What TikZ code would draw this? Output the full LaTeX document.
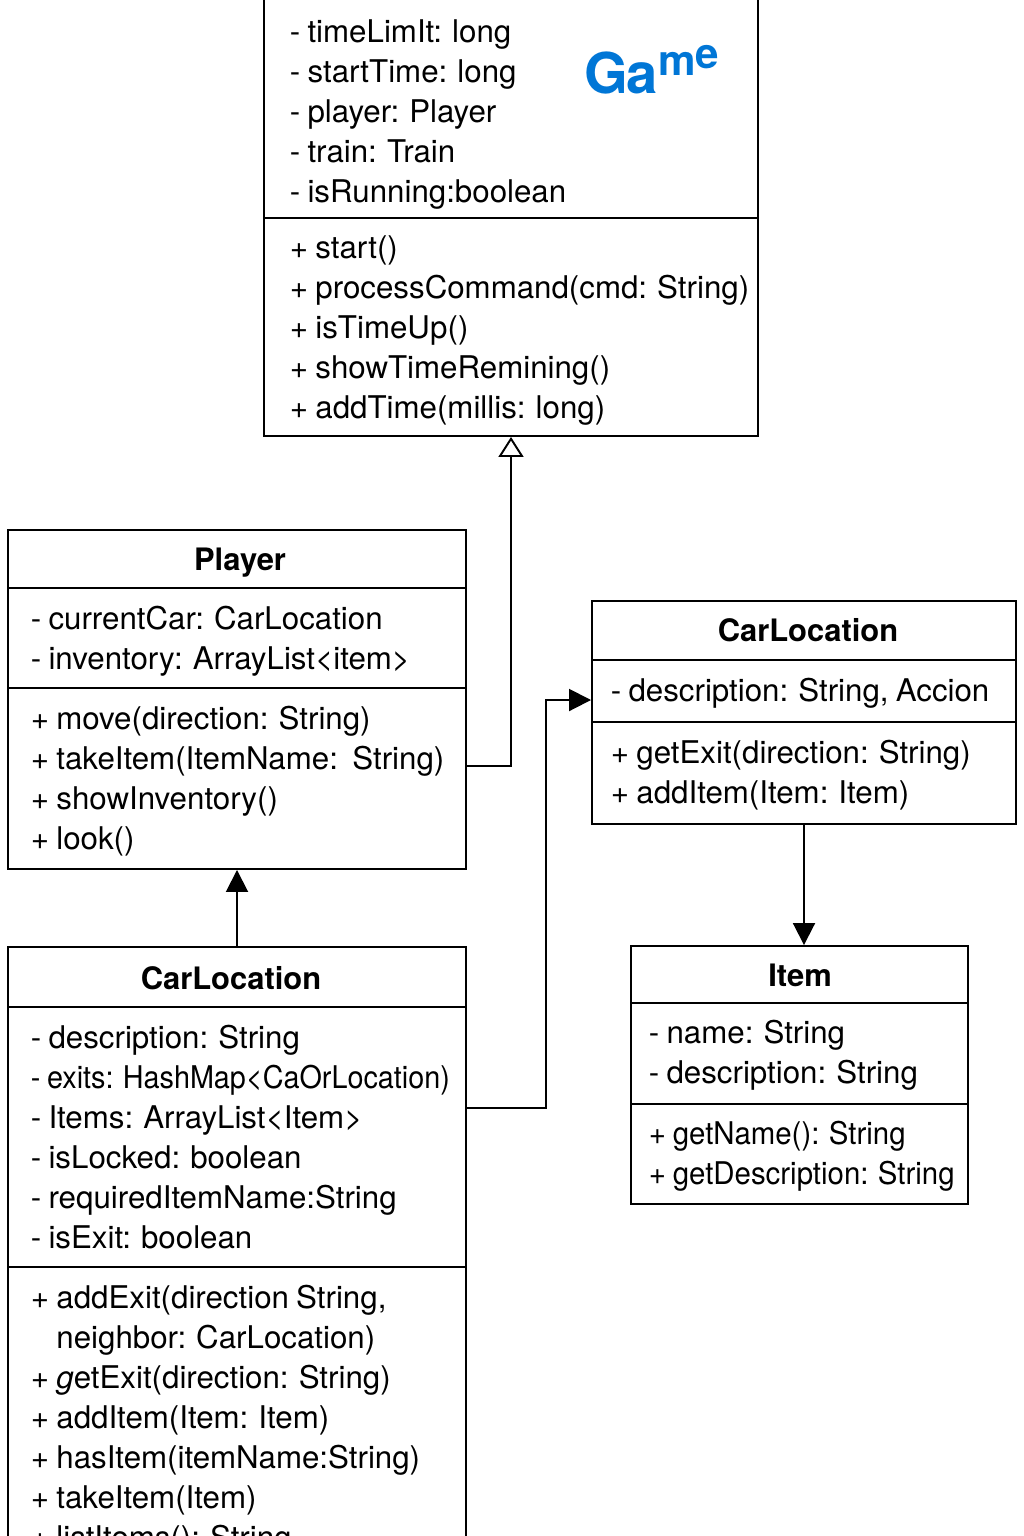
\documentclass[tikz,border=0pt]{standalone}
\usepackage{fontspec}
\setmainfont{TeX Gyre Heros}
\usetikzlibrary{arrows.meta,fit}
\definecolor{gameblue}{RGB}{0,118,214}

\begin{document}
\begin{tikzpicture}[x=0.02cm, y=-0.02cm, line width=1.1pt,
  umlbox/.style={draw, inner sep=0pt},
  member/.style={anchor=base west, inner sep=0pt, font=\fontsize{17.8}{21}\selectfont,
    execute at begin node={\spaceskip=0.23em\relax}},
  umltitle/.style={anchor=base, inner sep=0pt, font=\fontsize{17.6}{21}\selectfont\bfseries},
  inherit/.style={-{Triangle[open, length=0.4cm, width=0.5cm]}},
  assoc/.style={-{Triangle[length=0.44cm, width=0.44cm]}}]
  \useasboundingbox (0,0) rectangle (1024,1536);

  % Game
  \node[umlbox, fit={(264,-20) (758,436)}] (game) {};
  \draw (game.west |- 0,218) -- (game.east |- 0,218);
  \foreach \t [count=\i] in {- timeLimIt: long, - startTime: long, - player: Player, - train: Train, - isRunning:boolean}
    \node[member] (gattr\i) at (289,2+40*\i) {\t};
  \foreach \t [count=\i] in {+ start(), + processCommand(cmd: String), + isTimeUp(), + showTimeRemining(), + addTime(millis: long)}
    \node[member] (gop\i) at (289,218+40*\i) {\t};
  \node[anchor=base west, inner sep=0pt, text=gameblue, font=\fontsize{32}{32}\selectfont\bfseries] (gamelabel) at (584,93)
    {G\kern-1pt a\raisebox{10pt}{\fontsize{24}{24}\selectfont m\raisebox{4pt}{e}}};

  % Player
  \node[umlbox, fit={(8,530) (466,869)}] (player) {};
  \draw (player.west |- 0,588) -- (player.east |- 0,588);
  \draw (player.west |- 0,688) -- (player.east |- 0,688);
  \node[umltitle] (ptitle) at (240,570) {Player};
  \foreach \t [count=\i] in {- currentCar: CarLocation, - inventory: ArrayList<item>}
    \node[member] (pattr\i) at (30,589+40*\i) {\t};
  \foreach \t [count=\i] in {+ move(direction: String), + takeItem(ItemName:\ \ String), + showInventory(), + look()}
    \node[member] (pop\i) at (30,689+40*\i) {\t};

  % CarLocation (right)
  \node[umlbox, fit={(592,601) (1016,824)}] (carsmall) {};
  \draw (carsmall.west |- 0,660) -- (carsmall.east |- 0,660);
  \draw (carsmall.west |- 0,722) -- (carsmall.east |- 0,722);
  \node[umltitle] (cstitle) at (808,641) {CarLocation};
  \node[member] (csattr1) at (610,701) {- description: String, Accion};
  \foreach \t [count=\i] in {+ getExit(direction: String), + addItem(Item: Item)}
    \node[member] (csop\i) at (610,723+40*\i) {\t};

  % Item
  \node[umlbox, fit={(631,946) (968,1204)}] (item) {};
  \draw (item.west |- 0,1003) -- (item.east |- 0,1003);
  \draw (item.west |- 0,1104) -- (item.east |- 0,1104);
  \node[umltitle] (ititle) at (800,986) {Item};
  \foreach \t [count=\i] in {- name: String, - description: String}
    \node[member] (iattr\i) at (648,1003+40*\i) {\t};
  \foreach \t [count=\i] in {+ getName(): String, + getDescription: String}
    \node[member] (iop\i) at (648,1104+40*\i) {\scalebox{0.94}[1]{\t}};

  % CarLocation (left)
  \node[umlbox, fit={(8,947) (466,1570)}] (carfull) {};
  \draw (carfull.west |- 0,1007) -- (carfull.east |- 0,1007);
  \draw (carfull.west |- 0,1267) -- (carfull.east |- 0,1267);
  \node[umltitle] (cftitle) at (231,989) {CarLocation};
  \foreach \t [count=\i] in {- description: String, \scalebox{0.92}[1]{- exits: HashMap<CaOrLocation)}, - Items: ArrayList<Item>, - isLocked: boolean, - requiredItemName:String, - isExit: boolean}
    \node[member] (cfattr\i) at (30,1008+40*\i) {\t};
  \foreach \t [count=\i] in {{+ addExit(direction String,}, \hphantom{+ }neighbor: CarLocation), + \textit{g}etExit(direction: String), + addItem(Item: Item), + hasItem(itemName:String), + takeItem(Item), + listItems(): String}
    \node[member] (cfop\i) at (30,1268+40*\i) {\t};

  % connectors
  \draw[inherit] (player.east |- 0,766) -| (game.south);
  \draw[assoc] (carfull.north) -- (player.south);
  \draw[assoc] (carfull.east |- 0,1108) -- ++(79,0) |- (carsmall.west |- 0,700);
  \draw[assoc] (carsmall.south) -- (carsmall.south |- item.north);
\end{tikzpicture}
\end{document}
